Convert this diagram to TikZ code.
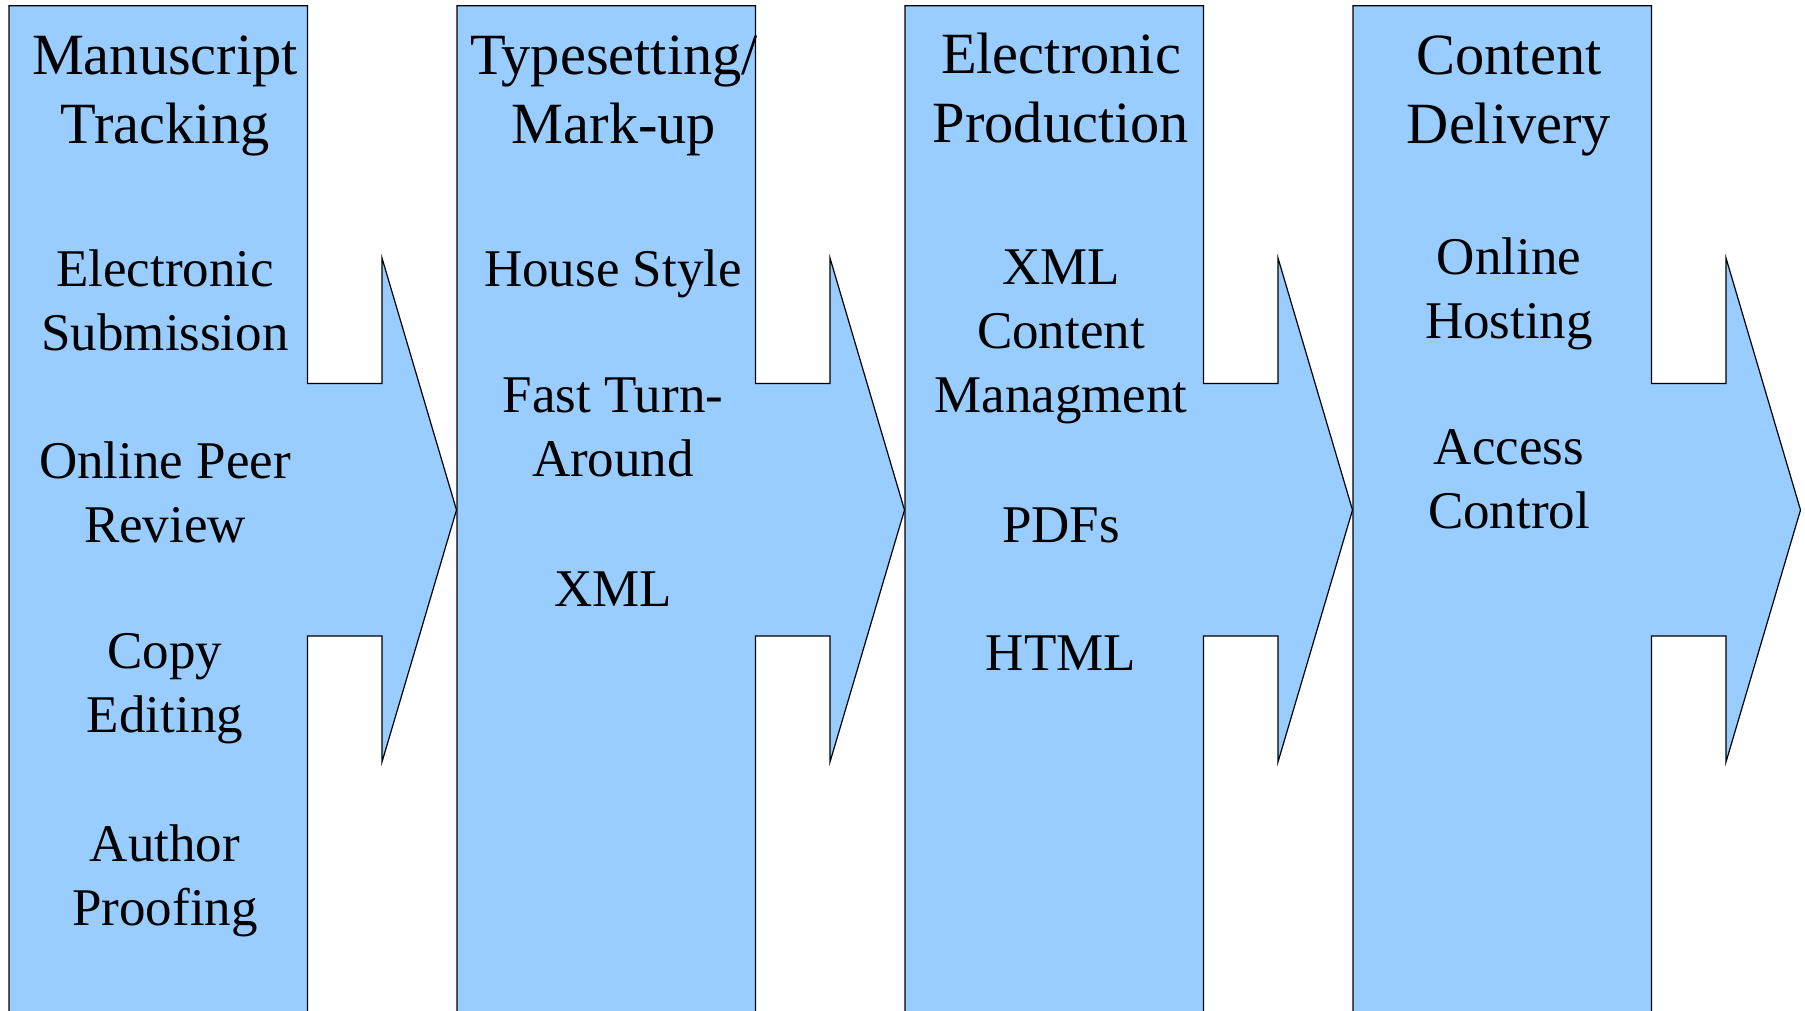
\documentclass[tikz,border=0pt]{standalone}
\usepackage{fontspec}
\setmainfont{Liberation Serif}
\usepackage{tikz}

\definecolor{stagefill}{RGB}{153,204,255}

\begin{document}
\begin{tikzpicture}[
    x=0.5pt, y=-0.5pt,
    stage/.style={draw=black, fill=stagefill, line width=0.6pt},
    head/.style={anchor=north, inner sep=0pt, align=center, font=\fontsize{29.2pt}{34.75pt}\selectfont},
    item/.style={anchor=north, inner sep=0pt, align=center, font=\fontsize{26.5pt}{32pt}\selectfont}
]
    \clip (0,0) rectangle (1805,1011);
    % the four stage arrows
    \draw[stage] (9,1030) |- (307.5,5.7) |- (382,383.5) -- (382,258) -- (456.5,510) -- (382,762) |- (307.5,636) -- (307.5,1030) -- cycle;
    \draw[stage, shift={(448,0)}] (9,1030) |- (307.5,5.7) |- (382,383.5) -- (382,258) -- (456.5,510) -- (382,762) |- (307.5,636) -- (307.5,1030) -- cycle;
    \draw[stage, shift={(896,0)}] (9,1030) |- (307.5,5.7) |- (382,383.5) -- (382,258) -- (456.5,510) -- (382,762) |- (307.5,636) -- (307.5,1030) -- cycle;
    \draw[stage, shift={(1344,0)}] (9,1030) |- (307.5,5.7) |- (382,383.5) -- (382,258) -- (456.5,510) -- (382,762) |- (307.5,636) -- (307.5,1030) -- cycle;

    % stage 1
    \node[head] (tracking) at (165,35) {Manuscript\\Tracking};
    \node[item] (submission) at (165,249) {Electronic\\Submission};
    \node[item] (review) at (165,441) {Online Peer\\Review};
    \node[item] (copyedit) at (165,633) {Copy\\Editing};
    \node[item] (proofing) at (165,824) {Author\\Proofing};

    % stage 2
    \node[head] (markup) at (614,35) {Typesetting/\\Mark-up};
    \node[item] (housestyle) at (613,249) {House Style};
    \node[item] (turnaround) at (613,377) {Fast Turn-\\Around};
    \node[item] (xmlmark) at (613,571) {XML};

    % stage 3
    \node[head] (production) at (1061,32.5) {Electronic\\Production};
    \node[item] (xmlcms) at (1061,249) {XML\\Content\\Managment};
    \node[item] (pdfs) at (1061,507) {PDFs};
    \node[item] (html) at (1061,635) {HTML};

    % stage 4
    \node[head] (delivery) at (1509,35) {Content\\Delivery};
    \node[item] (hosting) at (1509,237) {Online\\Hosting};
    \node[item] (access) at (1509,429) {Access\\Control};
\end{tikzpicture}
\end{document}
